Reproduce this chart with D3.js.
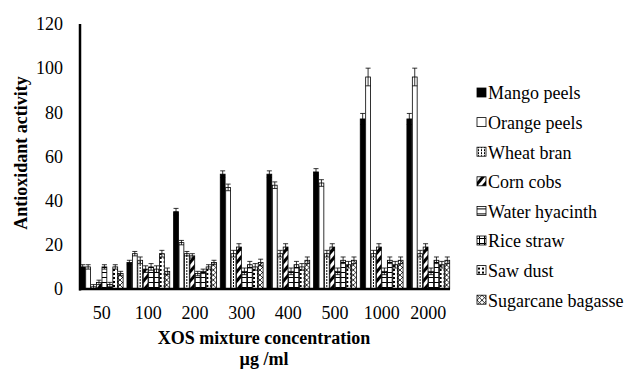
<!DOCTYPE html>
<html>
<head>
<meta charset="utf-8">
<script src="https://cdn.jsdelivr.net/npm/d3@7"></script>
</head>
<body style="margin:0">
<svg id="chart" width="634" height="369"></svg>
<script>
// concentrations (x categories)
var concentrations = ["50", "100", "200", "300", "400", "500", "1000", "2000"];
var sources = ["Mango peels", "Orange peels", "Wheat bran", "Corn cobs", "Water hyacinth", "Rice straw", "Saw dust", "Sugarcane bagasse"];
var yTicks = [0, 20, 40, 60, 80, 100, 120];

// values per source, one per concentration
var mango     = [10, 12, 35, 52, 52, 53, 77, 77];
var orange    = [10, 16, 21, 46, 47, 48, 96, 96];
var wheat     = [1, 13, 16, 16, 16, 16, 16, 16];
var corn      = [3, 9, 15, 19, 19, 19, 19, 19];
var hyacinth  = [10, 10, 7, 8, 8, 8, 8, 8];
var rice      = [2, 9, 8, 11, 11, 13, 13, 13];
var sawdust   = [10, 16, 10, 10, 10, 11, 11, 11];
var sugarcane = [7, 8, 12, 12, 13, 13, 13, 13];

// error bar half-widths
var mangoErr     = [1, 1, 1.5, 1.5, 1.5, 1.5, 2.5, 2.5];
var orangeErr    = [1, 1, 1, 1.5, 1.5, 1.5, 4, 4];
var otherErr     = [1, 1.5, 1, 1.5, 1.5, 1.5, 1.5, 1.5];

var allValues = [mango, orange, wheat, corn, hyacinth, rice, sawdust, sugarcane];
var allErrs = [mangoErr, orangeErr, otherErr, otherErr, otherErr, otherErr, otherErr, otherErr];
var fills = ["#000", "#fff", "url(#pWheat)", "url(#pCorn)", "url(#pHyacinth)", "url(#pRice)", "url(#pSaw)", "url(#pSugar)"];

var serif = "Liberation Serif";

var svg = d3.select("#chart");

// text first, then the marks
function label(sel) {
  return sel.attr("font-family", serif).attr("font-size", 18).attr("fill", "#000");
}

// y tick labels
var y = d3.scaleLinear().domain([0, 120]).range([289, 24]);
var x0 = d3.scaleBand().domain(concentrations).range([80, 450]).paddingInner(0.07).paddingOuter(0);
var x1 = d3.scaleBand().domain(d3.range(sources.length)).range([0, x0.bandwidth()]);

label(svg.selectAll("text.ytick").data(yTicks).enter().append("text"))
  .attr("class", "ytick")
  .attr("x", 63).attr("y", function(d) { return y(d); })
  .attr("dy", "0.35em")
  .attr("text-anchor", "end")
  .text(function(d) { return d; });

// x tick labels
label(svg.selectAll("text.xtick").data(concentrations).enter().append("text"))
  .attr("class", "xtick")
  .attr("x", function(d) { return x0(d) + x0.bandwidth() / 2; })
  .attr("y", 319)
  .attr("text-anchor", "middle")
  .text(function(d) { return d; });

// titles
label(svg.append("text")).attr("transform", "translate(27,153) rotate(-90)")
  .attr("text-anchor", "middle").attr("font-weight", "bold")
  .text("Antioxidant activity");

label(svg.append("text")).attr("x", 264).attr("y", 344)
  .attr("text-anchor", "middle").attr("font-weight", "bold")
  .text("XOS mixture concentration");

label(svg.append("text")).attr("x", 264).attr("y", 365)
  .attr("text-anchor", "middle").attr("font-weight", "bold")
  .text("µg /ml");

var defs = svg.append("defs");

//patterns for the bars
function pattern(id, w, h, transform) {
  var p = defs.append("pattern").attr("id", id)
    .attr("patternUnits", "userSpaceOnUse")
    .attr("width", w).attr("height", h);
  if (transform) p.attr("patternTransform", transform);
  p.append("rect").attr("width", w).attr("height", h).attr("fill", "#fff");
  return p;
}
var pw = pattern("pWheat", 3, 3);
pw.append("rect").attr("x", 1).attr("y", 0).attr("width", 1).attr("height", 2).attr("fill", "#000");

var pc = pattern("pCorn", 6, 6, "rotate(40)");
pc.append("rect").attr("x", 0).attr("y", 0).attr("width", 3).attr("height", 6).attr("fill", "#000");

var ph = pattern("pHyacinth", 5, 5);
ph.append("rect").attr("x", 0).attr("y", 2).attr("width", 5).attr("height", 1).attr("fill", "#000");

var pr = pattern("pRice", 5, 5);
pr.append("rect").attr("x", 0).attr("y", 2).attr("width", 5).attr("height", 1).attr("fill", "#000");
pr.append("rect").attr("x", 2).attr("y", 0).attr("width", 1).attr("height", 5).attr("fill", "#000");

var ps = pattern("pSaw", 4, 4);
ps.append("rect").attr("x", 1).attr("y", 1).attr("width", 2).attr("height", 2).attr("fill", "#000");

var pg = pattern("pSugar", 5, 5);
pg.append("path").attr("d", "M0,0L5,5M5,0L0,5").attr("stroke", "#000").attr("stroke-width", 0.8);

// bars
var groups = svg.selectAll("g.grp").data(concentrations).enter().append("g")
  .attr("class", "grp")
  .attr("transform", function(d) { return "translate(" + x0(d) + ",0)"; });

groups.each(function(c, ci) {
  var g = d3.select(this);
  sources.forEach(function(s, si) {
    var v = allValues[si][ci];
    var e = allErrs[si][ci];
    var bx = x1(si);
    g.append("rect")
      .attr("x", bx + 0.3)
      .attr("y", y(v))
      .attr("width", x1.bandwidth() - 0.6)
      .attr("height", y(0) - y(v))
      .attr("fill", fills[si])
      .attr("stroke", "#000")
      .attr("stroke-width", 0.8);
    var cx = bx + x1.bandwidth() / 2;
    g.append("line").attr("x1", cx).attr("x2", cx)
      .attr("y1", y(v - e)).attr("y2", y(v + e))
      .attr("stroke", "#000").attr("stroke-width", 0.8);
    [v - e, v + e].forEach(function(t) {
      g.append("line").attr("x1", cx - 2.5).attr("x2", cx + 2.5)
        .attr("y1", y(t)).attr("y2", y(t))
        .attr("stroke", "#000").attr("stroke-width", 0.8);
    });
  });
});

// axes lines
svg.append("line").attr("x1", 80).attr("x2", 80).attr("y1", y(120)).attr("y2", y(0) + 1.5)
  .attr("stroke", "#000").attr("stroke-width", 2.5);
svg.append("line").attr("x1", 79).attr("x2", 450).attr("y1", y(0)).attr("y2", y(0))
  .attr("stroke", "#000").attr("stroke-width", 2.5);

// legend
var legend = svg.selectAll("g.leg").data(sources).enter().append("g")
  .attr("class", "leg")
  .attr("transform", function(d, i) { return "translate(477," + (93 + i * 29.6) + ")"; });

legend.append("rect")
  .attr("x", 0).attr("y", -5).attr("width", 9).attr("height", 9)
  .attr("fill", function(d, i) { return fills[i]; })
  .attr("stroke", "#000").attr("stroke-width", 0.8);

label(legend.append("text"))
  .attr("x", 11).attr("y", 0).attr("dy", "0.35em")
  .text(function(d) { return d; });
</script>
</body>
</html>
